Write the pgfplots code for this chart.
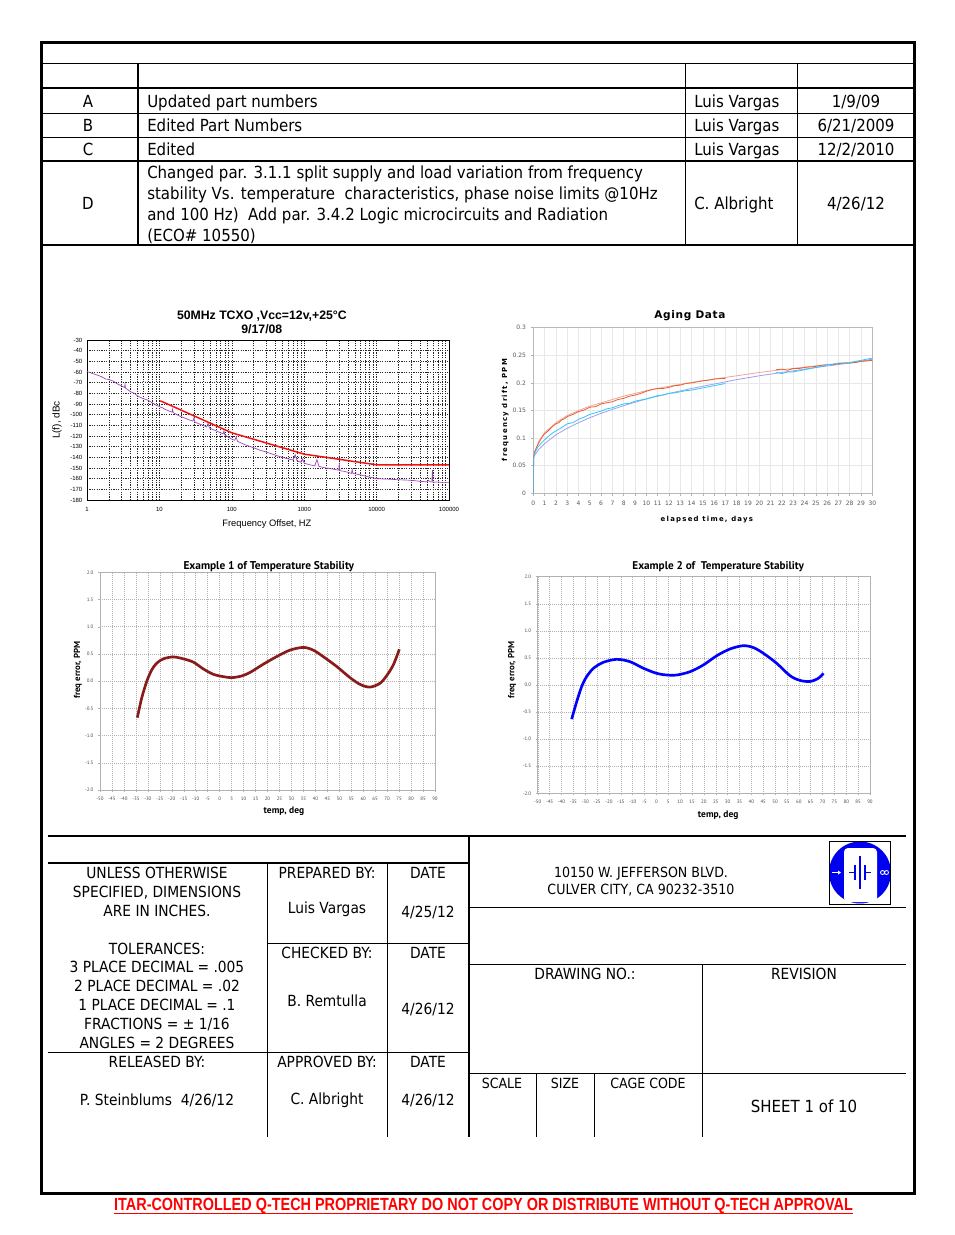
\documentclass[border=0pt]{standalone}
\usepackage{pgfplots}
\pgfplotsset{compat=1.18}
\usepackage{fontspec}
\usepackage{graphicx}
\setmainfont{DejaVu Sans}[FakeStretch=0.9]
\newfontfamily\arialf{Liberation Sans}
\newfontfamily\verdT{DejaVu Sans}[LetterSpace=6]
\newfontfamily\verdL{DejaVu Sans}[LetterSpace=18]
\newfontfamily\verdP{DejaVu Sans}
\newfontfamily\myr{PT Sans}
\definecolor{phasepurple}{HTML}{A040B8}
\definecolor{limitred}{HTML}{F01010}
\definecolor{agorange}{HTML}{E8602C}
\definecolor{agsalmon}{HTML}{F2A3A0}
\definecolor{agcyan}{HTML}{30C8F8}
\definecolor{aglav}{HTML}{9CA0F0}
\definecolor{maroonc}{HTML}{8B1A1A}
\definecolor{logoblue}{HTML}{0000F0}
\tikzset{
  rv/.style={inner sep=0pt, anchor=base, font=\fontsize{12.5}{14}\selectfont},
  rvl/.style={rv, anchor=base west},
  tb/.style={inner sep=0pt, anchor=base, font=\fontsize{11.5}{13}\selectfont},
  tbs/.style={inner sep=0pt, anchor=base, font=\fontsize{10.5}{12}\selectfont},
}
\begin{document}
\begin{tikzpicture}
\begin{scope}[x=0.75pt,y=-0.75pt]
\fill[white] (0,0) rectangle (954,1235);
% outer frame
\draw[line width=2.25pt] (41,42) rectangle (914.5,1193.5);
% revision table
\draw[line width=1.3pt] (41,63.5)--(914.5,63.5);
\draw[line width=1.3pt] (41,88)--(914.5,88);
\draw[line width=0.75pt] (41,113)--(914.5,113);
\draw[line width=0.75pt] (41,137)--(914.5,137);
\draw[line width=1.3pt] (41,161)--(914.5,161);
\draw[line width=1.1pt] (41,245)--(914.5,245);
\draw[line width=1pt] (138,63.5)--(138,245);
\draw[line width=1pt] (685.5,63.5)--(685.5,245);
\draw[line width=1pt] (797.5,63.5)--(797.5,245);
\node[rv] at (88,107) {A};
\node[rvl] at (147,107) {Updated part numbers};
\node[rvl] at (694,107) {Luis Vargas};
\node[rv] at (856,107) {1/9/09};
\node[rv] at (88,131) {B};
\node[rvl] at (147,131) {Edited Part Numbers};
\node[rvl] at (694,131) {Luis Vargas};
\node[rv] at (856,131) {6/21/2009};
\node[rv] at (88,155) {C};
\node[rvl] at (147,155) {Edited};
\node[rvl] at (694,155) {Luis Vargas};
\node[rv] at (856,155) {12/2/2010};
\node[rv] at (88,209) {D};
\node[rvl] at (147,178) {Changed par. 3.1.1 split supply and load variation from frequency};
\node[rvl] at (147,199) {stability Vs. temperature\ \ characteristics, phase noise limits @10Hz};
\node[rvl] at (147,220) {and 100 Hz)\ \ Add par. 3.4.2 Logic microcircuits and Radiation};
\node[rvl] at (147,241) {(ECO\# 10550)};
\node[rvl] at (694,209) {C. Albright};
\node[rv] at (856,209) {4/26/12};
% title block
\begin{scope}[line width=0.8pt]
\draw (48,836)--(906,836);
\draw (48,863)--(469,863);
\draw (469,836)--(469,1137);
\draw (267.5,863)--(267.5,1137);
\draw (387.5,863)--(387.5,1137);
\draw (267.5,943.5)--(469,943.5);
\draw (48,1052.5)--(469,1052.5);
\draw (469,907.5)--(906,907.5);
\draw (469,964.5)--(906,964.5);
\draw (702.5,964.5)--(702.5,1137);
\draw (469,1073.5)--(906,1073.5);
\draw (536.5,1073.5)--(536.5,1137);
\draw (594.5,1073.5)--(594.5,1137);
\end{scope}
\node[tb] at (157,878.6) {UNLESS OTHERWISE};
\node[tb] at (157,897.6) {SPECIFIED, DIMENSIONS};
\node[tb] at (157,916.6) {ARE IN INCHES.};
\node[tb] at (157,954.6) {TOLERANCES:};
\node[tb] at (157,972.6) {3 PLACE DECIMAL = .005};
\node[tb] at (157,991.6) {2 PLACE DECIMAL = .02};
\node[tb] at (157,1010.6) {1 PLACE DECIMAL = .1};
\node[tb] at (157,1029.6) {FRACTIONS = ± 1/16};
\node[tb] at (157,1048.6) {ANGLES = 2 DEGREES};
\node[tb] at (157,1067.6) {RELEASED BY:};
\node[tb] at (157,1105.6) {P. Steinblums\ \ 4/26/12};
\node[tb] at (327,878.6) {PREPARED BY:};
\node[tb] at (327,913.6) {Luis Vargas};
\node[tb] at (428,878.6) {DATE};
\node[tb] at (428,917.6) {4/25/12};
\node[tb] at (327,958.6) {CHECKED BY:};
\node[tb] at (327,1006.6) {B. Remtulla};
\node[tb] at (428,958.6) {DATE};
\node[tb] at (428,1014.6) {4/26/12};
\node[tb] at (327,1067.6) {APPROVED BY:};
\node[tb] at (327,1104.6) {C. Albright};
\node[tb] at (428,1067.6) {DATE};
\node[tb] at (428,1105.6) {4/26/12};
\node[tbs] at (641,877) {10150 W. JEFFERSON BLVD.};
\node[tbs] at (641,894) {CULVER CITY, CA 90232-3510};
\node[tb] at (585,979.6) {DRAWING NO.:};
\node[tb] at (804,979.6) {REVISION};
\node[tbs] at (502,1088) {SCALE};
\node[tbs] at (565,1088) {SIZE};
\node[tbs] at (648,1088) {CAGE CODE};
\node[rv] at (804,1112) {SHEET 1 of 10};
% logo
\begin{scope}
\clip (829.5,841) rectangle (890.5,904.5);
\fill[logoblue] (860,872.5) circle[radius=31];
\fill[white, rounded corners=3pt] (844,848) rectangle (877,902);
\end{scope}
\draw[line width=0.6pt] (829.5,841) rectangle (890.5,904.5);
\draw[logoblue, line width=2.2pt] (860,856)--(860,889);
\draw[logoblue, line width=0.9pt] (855,865)--(855,880) (865,865)--(865,880) (849,872.5)--(855,872.5) (865,872.5)--(871,872.5);
\draw[white, line width=0.8pt] (832,872.5)--(840,872.5);
\fill[white] (841,872.5)--(838,870.5)--(838,874.5)--cycle;
\draw[white, line width=0.6pt] (882.5,872.5) circle[radius=2] (886.5,872.5) circle[radius=2];
% footer
\node[inner sep=0pt, anchor=base] at (483.5,1210.5) {\color{red}\resizebox{554pt}{9.2pt}{\arialf\bfseries ITAR-CONTROLLED Q-TECH PROPRIETARY DO NOT COPY OR DISTRIBUTE WITHOUT Q-TECH APPROVAL}};
\draw[red, line width=0.9pt] (114,1213.5)--(853,1213.5);
\end{scope}

% ===== Chart 1: phase noise =====
\begin{axis}[
  at={(65.25pt,-375pt)}, anchor=south west,
  width=271.5pt, height=120pt, scale only axis,
  xmode=log, xmin=1, xmax=100000, ymin=-180, ymax=-30,
  xtick={1,10,100,1000,10000,100000},
  xticklabels={1,10,100,1000,10000,100000},
  minor xtick={2,3,4,5,6,7,8,9,20,30,40,50,60,70,80,90,200,300,400,500,600,700,800,900,2000,3000,4000,5000,6000,7000,8000,9000,20000,30000,40000,50000,60000,70000,80000,90000},
  ytick={-180,-170,-160,-150,-140,-130,-120,-110,-100,-90,-80,-70,-60,-50,-40,-30},
  grid=both,
  major grid style={black!85, line width=0.3pt, dash pattern=on 0.9pt off 0.9pt},
  minor grid style={black!85, line width=0.3pt, dash pattern=on 0.9pt off 0.9pt},
  axis line style={black, line width=0.4pt},
  tick style={draw=none},
  /pgf/number format/assume math mode=true,
  ticklabel style={font=\arialf\fontsize{4.5}{5}\selectfont},
  xticklabel style={yshift=-2pt},
  title={50MHz TCXO ,Vcc=12v,+25°C\\9/17/08},
  title style={font=\arialf\bfseries\fontsize{9.2}{10.5}\selectfont, align=center, at={(axis description cs:0.483,1.119)}, anchor=center, yshift=-7pt},
  xlabel={Frequency Offset, HZ},
  xlabel style={font=\arialf\fontsize{7}{8}\selectfont, at={(axis description cs:0.497,-0.15)}, anchor=center},
  ylabel={L(f), dBc},
  ylabel style={font=\arialf\fontsize{7.5}{8}\selectfont, at={(axis description cs:-0.083,0.5)}, anchor=center},
]
\addplot[phasepurple, line width=0.5pt] coordinates {
(1,-59.5) (1.2,-61.5) (1.4,-63) (1.6,-64.5) (1.8,-66.5) (2,-67) (2.3,-68.5) (2.6,-71) (3,-73) (3.2,-74) (3.3,-74.5) (3.35,-71.5) (3.4,-75)
(4,-78.5) (4.5,-80) (5,-82.5) (6,-85) (7,-86.5) (8,-89) (9,-91) (10,-92.5) (11,-93.5) (12,-95) (13,-96) (14,-97)
(15,-97.5) (15.2,-95) (15.5,-98) (17,-99.5) (20,-102) (23,-103.5) (26,-105) (29,-106) (30,-103) (31,-107) (35,-108.5) (40,-110)
(45,-111.5) (47,-108) (49,-112.5) (55,-114) (60,-115) (70,-117) (76,-118) (78,-115) (80,-119) (90,-121) (100,-123)
(110,-124) (115,-121) (120,-125) (150,-128) (200,-131) (250,-133.5) (300,-135) (400,-138) (500,-140) (600,-141.5)
(700,-142.5) (750,-137.5) (800,-143.5) (900,-144.5) (950,-141.5) (1000,-145.5) (1200,-147) (1400,-148) (1500,-142) (1600,-148.5)
(2000,-150) (2500,-151) (3000,-152) (3050,-145) (3100,-152.5) (3500,-153) (4000,-154) (4500,-155) (4600,-151.5) (4700,-155)
(6000,-156.5) (8000,-158.5) (10000,-160) (15000,-160.5) (20000,-161) (30000,-161.5) (40000,-162.5) (50000,-163) (52000,-161.5)
(55000,-163) (58000,-163) (59000,-152) (60000,-163.5) (70000,-163) (80000,-163.5) (100000,-163.5)
};
\addplot[limitred, line width=1.1pt] coordinates {
(10.3,-87) (100,-117) (1000,-137) (10000,-147) (100000,-147)
};
\end{axis}

% ===== Chart 2: aging =====
\begin{axis}[
  at={(400pt,-370pt)}, anchor=south west,
  width=254.25pt, height=124.2pt, scale only axis,
  xmin=0, xmax=30, ymin=0, ymax=0.3,
  xtick={0,1,...,30},
  ytick={0,0.05,0.1,0.15,0.2,0.25,0.3},
  yticklabels={0,0.05,0.1,0.15,0.2,0.25,0.3},
  grid=major,
  major grid style={gray!18, line width=0.4pt},
  axis line style={gray!55, line width=0.6pt},
  tick style={gray!60, line width=0.4pt},
  major tick length=2pt, tick align=outside,
  xtick pos=lower, ytick pos=left,
  /pgf/number format/assume math mode=true,
  ticklabel style={font=\verdP\fontsize{4.5}{5}\selectfont, text=black!65},
  title={Aging Data},
  title style={font=\verdT\bfseries\fontsize{7.9}{9}\selectfont, at={(axis description cs:0.462,1.083)}, anchor=center, yshift=-7pt},
  xlabel={elapsed time, days},
  xlabel style={font=\verdL\bfseries\fontsize{5.2}{6}\selectfont, at={(axis description cs:0.512,-0.161)}, anchor=center},
  ylabel={frequency drift, PPM},
  ylabel style={font=\verdL\bfseries\fontsize{5.2}{6}\selectfont, at={(axis description cs:-0.083,0.503)}, anchor=center},
]
\addplot[agsalmon, line width=0.6pt] coordinates {
(0,0) (0.02,0.07) (0.5,0.095) (1,0.11) (2,0.128) (3,0.141) (4,0.150) (5,0.158) (6,0.164) (8,0.176) (10,0.186) (12,0.194) (14,0.201) (16,0.207) (18,0.213) (20,0.219) (22,0.224) (25,0.231) (28,0.237) (30,0.241)
};
\addplot[aglav, line width=0.6pt] coordinates {
(0,0) (0.02,0.066) (0.5,0.080) (1,0.090) (2,0.106) (3,0.118) (4,0.128) (5,0.137) (6,0.145) (8,0.159) (10,0.171) (12,0.181) (14,0.190) (16,0.198) (18,0.206) (20,0.213) (22,0.219) (25,0.228) (28,0.236) (30,0.243)
};
\addplot[agorange, line width=0.6pt] coordinates {
(0,0) (0.03,0.066) (0.1,0.074) (0.2,0.079) (0.3,0.084) (0.4,0.088) (0.5,0.092) (0.75,0.101) (1,0.108) (1.25,0.112) (1.5,0.117) (1.75,0.122) (2,0.126) (2.25,0.128) (2.5,0.133) (2.75,0.135) (3,0.139) (3.5,0.143) (4,0.148) (4.5,0.151) (5,0.156) (5.5,0.157) (6,0.162) (6.5,0.164) (7,0.166) (7.5,0.170) (8,0.172) (8.5,0.176) (9,0.178) (9.5,0.181) (10,0.185) (10.5,0.188) (11,0.190) (11.5,0.190) (12,0.192) (12.5,0.195) (13,0.196) (13.5,0.199) (14,0.200) (14.5,0.202) (15,0.204) (15.5,0.205) (16,0.207) (16.5,0.208) (17,0.208)
};
\addplot[agorange, line width=0.6pt] coordinates {
(21.5,0.224) (22,0.225) (22.5,0.223) (23,0.226) (23.5,0.226) (24,0.228) (24.5,0.229) (25,0.230) (25.5,0.232) (26,0.233) (26.5,0.233) (27,0.235) (27.5,0.236) (28,0.236) (28.5,0.237) (29,0.239) (29.5,0.240) (30,0.241)
};
\addplot[agcyan, line width=0.6pt] coordinates {
(0,0) (0.03,0.062) (0.1,0.071) (0.2,0.076) (0.3,0.080) (0.4,0.084) (0.5,0.086) (0.75,0.092) (1,0.097) (1.25,0.102) (1.5,0.106) (1.75,0.110) (2,0.113) (2.5,0.119) (3,0.126) (3.5,0.128) (4,0.134) (4.5,0.138) (5,0.143) (5.5,0.146) (6,0.149) (6.5,0.153) (7,0.155) (7.5,0.159) (8,0.162) (8.5,0.163) (9,0.167) (9.5,0.169) (10,0.171) (10.5,0.174) (11,0.177) (11.5,0.178) (12,0.181) (12.5,0.182) (13,0.184) (13.5,0.186) (14,0.187) (14.5,0.189) (15,0.191) (15.5,0.193) (16,0.195) (16.5,0.197) (17,0.199)
};
\addplot[agcyan, line width=0.6pt] coordinates {
(21.5,0.219) (22,0.217) (22.5,0.220) (23,0.220) (23.5,0.222) (24,0.224) (24.5,0.226) (25,0.228) (25.5,0.230) (26,0.233) (26.5,0.234) (27,0.236) (27.5,0.236) (28,0.237) (28.5,0.239) (29,0.241) (29.5,0.243) (30,0.245)
};
\end{axis}

% ===== Chart 3: Example 1 =====
\begin{axis}[
  at={(75pt,-592.5pt)}, anchor=south west,
  width=251.25pt, height=163.3pt, scale only axis,
  xmin=-50, xmax=90, ymin=-2, ymax=2,
  xtick={-50,-45,...,90},
  ytick={-2,-1.5,-1,-0.5,0,0.5,1,1.5,2},
  yticklabels={-2.0,-1.5,-1.0,-0.5,0.0,0.5,1.0,1.5,2.0},
  grid=major,
  major grid style={gray!60, line width=0.35pt, dash pattern=on 0.6pt off 0.9pt},
  extra y ticks={1}, extra y tick labels={},
  extra y tick style={grid style={black!65, line width=0.4pt, dash pattern=on 0.8pt off 0.8pt}},
  axis line style={gray!60, line width=0.5pt},
  tick style={gray!60, line width=0.3pt},
  major tick length=1.5pt, tick align=outside,
  xtick pos=lower, ytick pos=left,
  /pgf/number format/assume math mode=true,
  ticklabel style={font=\myr\fontsize{3.7}{4}\selectfont, text=black!70},
  title={Example 1 of Temperature Stability},
  title style={font=\myr\bfseries\fontsize{8.5}{9}\selectfont, at={(axis description cs:0.504,1.034)}, anchor=center, yshift=-7pt},
  xlabel={temp, deg},
  xlabel style={font=\myr\bfseries\fontsize{7.1}{8}\selectfont, at={(axis description cs:0.549,-0.096)}, anchor=center},
  ylabel={freq error, PPM},
  ylabel style={font=\myr\bfseries\fontsize{6.6}{7}\selectfont, at={(axis description cs:-0.066,0.551)}, anchor=center},
]
\addplot[maroonc, line width=2pt, smooth] coordinates {
(-34.4,-0.67) (-32.6,-0.315) (-30.5,-0.01) (-28.4,0.205) (-26.3,0.33) (-23.5,0.41) (-19.4,0.445) (-15.2,0.41) (-11,0.35) (-6.8,0.224) (-2.6,0.125) (1.5,0.083) (5,0.064) (9.2,0.095) (12.7,0.16) (18.2,0.31) (23.8,0.45) (29.4,0.57) (35,0.62) (39.1,0.57) (43.3,0.45) (48.9,0.27) (54.5,0.064) (58.7,-0.06) (62.8,-0.11) (67,-0.04) (69.8,0.1) (72.6,0.3) (75.1,0.585)
};
\end{axis}

% ===== Chart 4: Example 2 =====
\begin{axis}[
  at={(403.3pt,-595pt)}, anchor=south west,
  width=249.2pt, height=162.5pt, scale only axis,
  xmin=-50, xmax=90, ymin=-2, ymax=2,
  xtick={-50,-45,...,90},
  ytick={-2,-1.5,-1,-0.5,0,0.5,1,1.5,2},
  yticklabels={-2.0,-1.5,-1.0,-0.5,0.0,0.5,1.0,1.5,2.0},
  grid=major,
  major grid style={gray!60, line width=0.35pt, dash pattern=on 0.6pt off 0.9pt},
  extra y ticks={-0.5}, extra y tick labels={},
  extra y tick style={grid style={black!80, line width=0.4pt, dash pattern=on 0.8pt off 0.8pt}},
  axis line style={gray!60, line width=0.5pt},
  tick style={gray!60, line width=0.3pt},
  major tick length=1.5pt, tick align=outside,
  xtick pos=lower, ytick pos=left,
  /pgf/number format/assume math mode=true,
  ticklabel style={font=\myr\fontsize{3.7}{4}\selectfont, text=black!70},
  title={Example 2 of\ \ Temperature Stability},
  title style={font=\myr\bfseries\fontsize{8.4}{9}\selectfont, at={(axis description cs:0.543,1.054)}, anchor=center, yshift=-7pt},
  xlabel={temp, deg},
  xlabel style={font=\myr\bfseries\fontsize{7.1}{8}\selectfont, at={(axis description cs:0.543,-0.1)}, anchor=center},
  ylabel={freq error, PPM},
  ylabel style={font=\myr\bfseries\fontsize{6.6}{7}\selectfont, at={(axis description cs:-0.077,0.569)}, anchor=center},
]
\addplot[blue, line width=2pt, smooth] coordinates {
(-35.7,-0.63) (-33.6,-0.31) (-31.5,-0.03) (-29.4,0.154) (-26.5,0.31) (-22.3,0.42) (-16.7,0.474) (-11.1,0.43) (-5.5,0.31) (0.1,0.215) (4.3,0.185) (8.6,0.185) (14.2,0.246) (19.8,0.37) (25.4,0.54) (31,0.665) (36.6,0.726) (40.9,0.69) (45.1,0.585) (50.7,0.4) (56.3,0.172) (60.5,0.085) (64.7,0.065) (68.2,0.123) (70.4,0.215)
};
\end{axis}
\end{tikzpicture}
\end{document}
